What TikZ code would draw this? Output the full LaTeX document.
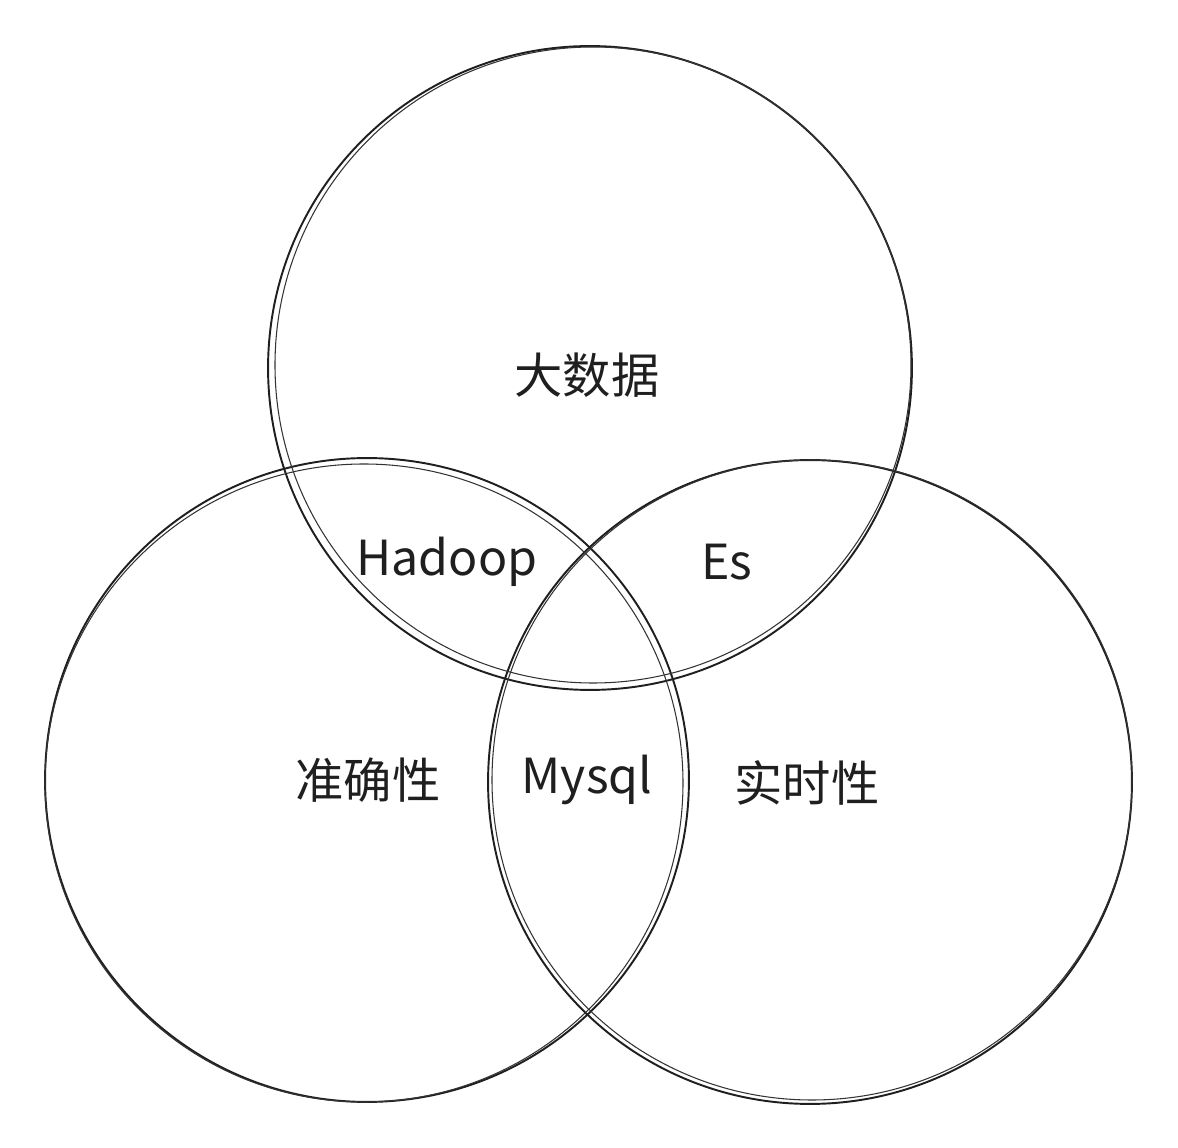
\documentclass[tikz,border=0pt]{standalone}
\usepackage{fontspec}
\setmainfont{Noto Sans CJK SC}
\begin{document}
\begin{tikzpicture}[x=0.02cm, y=-0.02cm,
    setnode/.style={circle, draw=black!88, line width=1.1pt, minimum size=12.88cm, inner sep=0pt},
    sketch/.style={draw=black!80, line width=0.6pt},
    labelnode/.style={font=\fontsize{27.5}{32}\selectfont, text=black!88}
   ]
   \useasboundingbox (0,0) rectangle (1178,1148);
   \node[setnode] (bigdata)  at (590,368) {};
   \node[setnode] (accuracy) at (367,780) {};
   \node[setnode] (realtime) at (810,782) {};

   % second pencil stroke
   \draw[sketch] ([shift={(3,-3)}]bigdata.center) circle[radius=318];
   \draw[sketch] ([shift={(-3,3)}]accuracy.center) circle[radius=319];
   \draw[sketch] ([shift={(2,-2)}]realtime.center) circle[radius=320];

   \node[labelnode] (bigdatatext)  at (587,375) {大数据};
   \node[labelnode] (hadoop)       at (447,562) {Hadoop};
   \node[labelnode] (es)           at (727,562) {Es};
   \node[labelnode] (accuracytext) at (368,780) {准确性};
   \node[labelnode] (mysql)        at (587,780) {Mysql};
   \node[labelnode] (realtimetext) at (807,783) {实时性};
\end{tikzpicture}
\end{document}
